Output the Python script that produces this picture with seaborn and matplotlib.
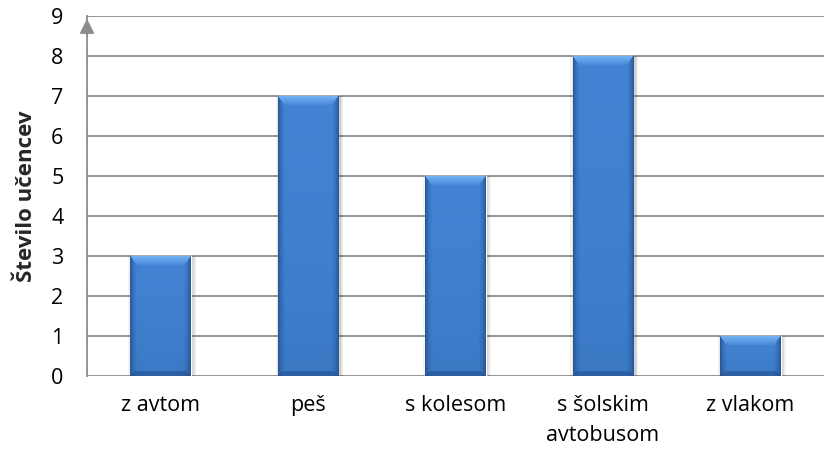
import numpy as np
import pandas as pd
import seaborn as sns
import matplotlib.pyplot as plt
from matplotlib.colors import LinearSegmentedColormap
from matplotlib.patches import Polygon

categories = ['z avtom', 'peš', 's kolesom', 's šolskim\navtobusom', 'z vlakom']
counts = [3, 7, 5, 8, 1]
y_label = 'Število učencev'

df = pd.DataFrame({'nacin': categories, 'stevilo': counts})

sns.set_style('white')
plt.rcParams['font.family'] = ['Open Sans', 'DejaVu Sans']

fig = plt.figure(figsize=(8.25, 4.57), dpi=100)
ax = fig.add_axes([87 / 825, 1 - 376 / 457, (824 - 87) / 825, 360 / 457])

sns.barplot(data=df, x='nacin', y='stevilo', color='#3d7cc9', width=0.41,
            saturation=1, ax=ax, zorder=3)

ax.set_ylim(0, 9)
ax.set_xlim(-0.5, len(categories) - 0.5)
ax.set_yticks(range(0, 10))
ax.yaxis.grid(True, color='#8c8c8c', linewidth=1.3, zorder=0)
ax.set_axisbelow(True)
for side in ['top', 'right', 'bottom']:
    ax.spines[side].set_visible(False)
ax.spines['left'].set_color('#8c8c8c')
ax.spines['left'].set_linewidth(1.3)
ax.tick_params(axis='both', length=0, labelsize=15.5, colors='black')
ax.tick_params(axis='y', pad=17)
ax.tick_params(axis='x', pad=14)
for lbl in ax.get_xticklabels():
    lbl.set_linespacing(1.55)
ax.set_xlabel('')
ax.set_ylabel(y_label, fontsize=16, fontweight='bold', labelpad=10)

# arrow at the top of the value axis
ax.annotate('', xy=(0, 1.0), xycoords='axes fraction', xytext=(0, 0.94),
            arrowprops=dict(arrowstyle='-|>', color='#8c8c8c', lw=1.3,
                            mutation_scale=22), zorder=5)

# smooth bevelled shading on each bar
shade = LinearSegmentedColormap.from_list(
    'shade', ['#2a5796', '#3570b8', '#3d7cc9', '#4283d3'])
bevel = LinearSegmentedColormap.from_list('bevel', ['#4a8ad8', '#78b6f6'])
xs = np.linspace(0, 1, 80)
horiz = np.clip(np.minimum(xs, 1 - xs) / 0.12, 0, 1)
ys = np.linspace(0, 1, 60)[:, None]
for p in ax.patches:
    x0, y0 = p.get_x(), p.get_y()
    w, h = p.get_width(), p.get_height()
    # soft drop shadow
    for k, a in [(0.05, 0.05), (0.03, 0.07), (0.015, 0.09)]:
        ax.bar(x0 + w / 2 + 0.01, h + 0.02, width=w + k, bottom=-0.02,
               color='#000000', alpha=a, zorder=2, linewidth=0)
    img = horiz[None, :] * (0.75 + 0.25 * ys) * (1 - 0.25 * (1 - ys) ** 3)
    im = ax.imshow(img, extent=(x0, x0 + w, y0, y0 + h), origin='lower',
                   cmap=shade, vmin=0, vmax=1, aspect='auto', zorder=4)
    im.set_clip_path(p)
    # bevelled top edge with its own gradient
    top, inset = 0.23, 0.045
    poly = Polygon([(x0, y0 + h), (x0 + w, y0 + h),
                    (x0 + w - inset, y0 + h - top), (x0 + inset, y0 + h - top)],
                   closed=True, facecolor='none', edgecolor='none')
    ax.add_patch(poly)
    bv = ax.imshow(np.linspace(0, 1, 20)[:, None], origin='lower',
                   extent=(x0, x0 + w, y0 + h - top, y0 + h),
                   cmap=bevel, aspect='auto', zorder=5)
    bv.set_clip_path(poly)
    # bevelled bottom edge
    ax.fill([x0, x0 + w, x0 + w - 0.03, x0 + 0.03],
            [y0, y0, y0 + 0.12, y0 + 0.12],
            color='#244d88', alpha=0.55, zorder=5, linewidth=0)

ax.set_xlim(-0.5, len(categories) - 0.5)
ax.set_ylim(0, 9)

fig.savefig('out.png', dpi=100)
